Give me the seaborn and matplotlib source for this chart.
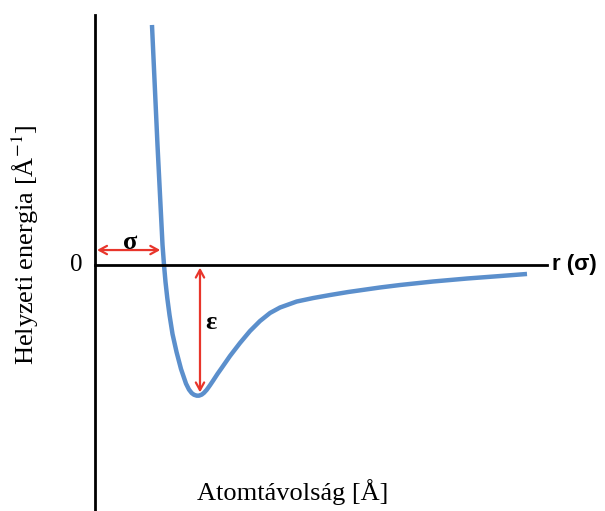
import matplotlib
matplotlib.use('Agg')
import matplotlib.pyplot as plt
import seaborn as sns
import numpy as np
import pandas as pd

# distance in units of sigma, energy in units of epsilon
r_vals = [0.838, 0.919, 0.993, 1.015, 1.037, 1.063, 1.096, 1.140, 1.199, 1.265,
          1.338, 1.382, 1.422, 1.456, 1.496, 1.529, 1.569, 1.603, 1.643, 1.691,
          1.740, 1.801, 1.863, 1.985, 2.132, 2.279, 2.426, 2.574, 2.721, 2.966,
          3.210, 3.456, 3.721, 4.191, 4.485, 4.971, 5.471, 5.956, 6.353]
e_vals = [1.846, 0.923, 0.154, 0.0, -0.131, -0.254, -0.385, -0.531, -0.669, -0.800,
          -0.912, -0.958, -0.985, -0.998, -1.005, -1.005, -0.997, -0.983, -0.960, -0.925,
          -0.887, -0.838, -0.792, -0.700, -0.600, -0.508, -0.431, -0.369, -0.327, -0.281,
          -0.254, -0.231, -0.208, -0.173, -0.154, -0.127, -0.104, -0.085, -0.069]
sigma = 1.0
epsilon = 1.0
r_min = 1.544

df = pd.DataFrame({'r': r_vals, 'E': e_vals})

sns.set_style('white')
plt.rcParams['font.family'] = ['Liberation Serif', 'DejaVu Serif']
plt.rcParams['mathtext.fontset'] = 'stix'
plt.rcParams['text.color'] = 'black'

fig = plt.figure(figsize=(6.05, 5.11), dpi=100)
ax = fig.add_axes([0, 0, 1, 1])

sns.lineplot(data=df, x='r', y='E', ax=ax, color='#5b8fcc', linewidth=3.2,
             solid_capstyle='butt', solid_joinstyle='round')

ax.set_xlim(-1.397, 7.5)
ax.set_ylim(-1.892, 2.038)

# axes drawn as spines through the origin
for s in ['top', 'right']:
    ax.spines[s].set_visible(False)
ax.spines['left'].set_position(('data', 0))
ax.spines['bottom'].set_position(('data', 0))
ax.spines['left'].set_bounds(-1.892, 1.92)
ax.spines['bottom'].set_bounds(0, 6.65)
for s in ['left', 'bottom']:
    ax.spines[s].set_linewidth(2)
    ax.spines[s].set_color('black')
ax.set_xticks([])
ax.set_yticks([])
ax.set_xlabel('')
ax.set_ylabel('')

red = '#e8352b'
arrow = dict(arrowstyle='<->,head_length=0.55,head_width=0.3', color=red, lw=1.6,
             shrinkA=0, shrinkB=0)
ax.annotate('', xy=(0.03, 0.115), xytext=(sigma - 0.04, 0.115), arrowprops=arrow)
ax.annotate('', xy=(r_min, -0.02), xytext=(r_min, -epsilon + 0.02), arrowprops=arrow)

ax.text(0.515, 0.17, 'σ', fontsize=19, ha='center', va='center', fontweight='bold')
ax.text(1.70, -0.44, 'ε', fontsize=19, ha='center', va='center', fontweight='bold')
ax.text(6.72, 0.0, 'r (σ)', fontsize=16, ha='left', va='center',
        family=['Liberation Sans', 'DejaVu Sans'], fontweight='bold')
ax.text(-0.19, 0.0, '0', fontsize=18, ha='right', va='center')

fig.text(25 / 605, 1 - 245 / 511, r'Helyzeti energia [Å$^{-1}$]', fontsize=19,
         rotation=90, ha='center', va='center')
fig.text(293 / 605, 1 - 492 / 511, 'Atomtávolság [Å]', fontsize=19,
         ha='center', va='center')

fig.savefig('out.png', dpi=100)
